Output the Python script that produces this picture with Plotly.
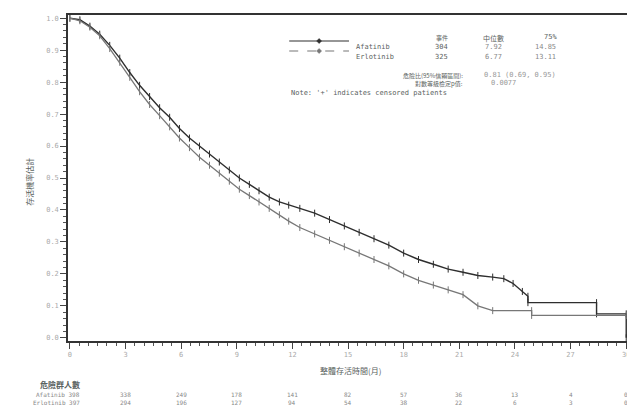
import plotly.graph_objects as go

# ---------------- data ----------------
times_afa = [0, 0.54, 1.08, 1.61, 2.15, 2.69, 3.23, 3.76, 4.30, 4.84, 5.38, 5.91, 6.45, 6.99,
             7.53, 8.06, 8.60, 9.14, 9.68, 10.2, 10.75, 11.3, 11.8, 12.4, 13.2, 14.0, 14.8,
             15.6, 16.4, 17.2, 18.0, 18.8, 19.6, 20.4, 21.2, 22.0, 22.8, 23.4, 23.9, 24.4,
             24.7, 24.7, 28.4, 28.4, 30.0, 30.0]
surv_afa = [1.0, 0.995, 0.975, 0.95, 0.915, 0.875, 0.83, 0.79, 0.755, 0.72, 0.69, 0.655, 0.625,
            0.60, 0.575, 0.55, 0.525, 0.50, 0.48, 0.46, 0.44, 0.425, 0.415, 0.405, 0.39, 0.37,
            0.35, 0.33, 0.31, 0.29, 0.265, 0.245, 0.23, 0.215, 0.205, 0.195, 0.19, 0.185, 0.17,
            0.145, 0.13, 0.11, 0.11, 0.075, 0.075, 0.0]

times_erl = [0, 0.54, 1.08, 1.61, 2.15, 2.69, 3.23, 3.76, 4.30, 4.84, 5.38, 5.91, 6.45, 6.99,
             7.53, 8.06, 8.60, 9.14, 9.68, 10.2, 10.75, 11.3, 11.8, 12.4, 13.2, 14.0, 14.8,
             15.6, 16.4, 17.2, 18.0, 18.8, 19.6, 20.4, 21.2, 22.0, 22.8, 24.9, 24.9, 30.0]
surv_erl = [1.0, 0.992, 0.972, 0.945, 0.905, 0.862, 0.815, 0.77, 0.73, 0.695, 0.66, 0.625, 0.595,
            0.565, 0.54, 0.515, 0.49, 0.465, 0.445, 0.425, 0.405, 0.385, 0.365, 0.345, 0.325,
            0.305, 0.285, 0.265, 0.245, 0.225, 0.20, 0.18, 0.165, 0.15, 0.135, 0.10, 0.085,
            0.085, 0.07, 0.07]

groups = ["Afatinib", "Erlotinib"]
events = ["304", "325"]
medians = ["7.92", "6.77"]
q75 = ["14.85", "13.11"]
hr_text = "0.81 (0.69, 0.95)"
p_text = "0.0077"

risk_times = [3, 6, 9, 12, 15, 18, 21, 24, 27, 30]
risk_n0 = ["398", "397"]
risk_afa = [338, 249, 178, 141, 82, 57, 36, 13, 4, 0]
risk_erl = [294, 196, 127, 94, 54, 38, 22, 6, 3, 0]

x_ticks = [0, 3, 6, 9, 12, 15, 18, 21, 24, 27, 30]
y_ticks = [0.0, 0.1, 0.2, 0.3, 0.4, 0.5, 0.6, 0.7, 0.8, 0.9, 1.0]

# ---------------- geometry (page offset of 8px compensated) ----------------
OFF = 8
W, H = 635 - OFF, 416 - OFF
L, R, T, B = 68 - OFF, 4, 15 - OFF, 75
PW, PH = W - L - R, H - T - B


def px(x):
    return (x - OFF - L) / PW


def py(y):
    return (H - B - (y - OFF)) / PH


MONO = "DejaVu Sans Mono"
CJK = "Noto Sans CJK TC"
DARK = "#2e2e2e"
GREY = "#777777"
TXT = "#5a6260"

fig = go.Figure()
fig.add_trace(go.Scatter(
    x=times_afa, y=surv_afa, mode="lines+markers", name=groups[0],
    line=dict(color=DARK, width=1.4),
    marker=dict(symbol="line-ns-open", size=5, line=dict(color=DARK, width=1)),
    showlegend=False))
fig.add_trace(go.Scatter(
    x=times_erl, y=surv_erl, mode="lines+markers", name=groups[1],
    line=dict(color=GREY, width=1.3),
    marker=dict(symbol="line-ns-open", size=5, line=dict(color=GREY, width=1)),
    showlegend=False))

ann = []
shapes = []

# legend lines
for i, (dash, col) in enumerate([("solid", DARK), ("dash", GREY)]):
    yy = 41 + 10 * i
    shapes.append(dict(type="line", xref="paper", yref="paper",
                       x0=px(290), x1=px(350), y0=py(yy), y1=py(yy),
                       line=dict(color=col, width=1.2, dash=dash)))
    d = 2.5
    path = (f"M {px(320 - d)},{py(yy)} L {px(320)},{py(yy - d)} "
            f"L {px(320 + d)},{py(yy)} L {px(320)},{py(yy + d)} Z")
    shapes.append(dict(type="path", xref="paper", yref="paper", path=path,
                       fillcolor=col, line=dict(color=col, width=0.5)))
    ann.append(dict(x=px(355), y=py(yy), xref="paper", yref="paper", text=groups[i],
                    xanchor="left", showarrow=False, font=dict(family=MONO, size=7, color=TXT)))
    ann.append(dict(x=px(451), y=py(yy), xref="paper", yref="paper", text=events[i],
                    showarrow=False, font=dict(family=MONO, size=7, color=TXT)))
    ann.append(dict(x=px(506), y=py(yy), xref="paper", yref="paper", text=medians[i],
                    showarrow=False, font=dict(family=MONO, size=7, color="#888")))
    ann.append(dict(x=px(560), y=py(yy), xref="paper", yref="paper", text=q75[i],
                    showarrow=False, font=dict(family=MONO, size=7, color="#888")))

ann.append(dict(x=px(451), y=py(31), xref="paper", yref="paper", text="事件",
                showarrow=False, font=dict(family=CJK, size=6, color=TXT)))
ann.append(dict(x=px(508), y=py(31), xref="paper", yref="paper", text="中位數",
                showarrow=False, font=dict(family=CJK, size=7, color=TXT)))
ann.append(dict(x=px(561), y=py(31), xref="paper", yref="paper", text="75%",
                showarrow=False, font=dict(family=MONO, size=7, color=TXT)))
ann.append(dict(x=px(466), y=py(69), xref="paper", yref="paper", text="危險比(95%信賴區間):",
                xanchor="right", showarrow=False, font=dict(family=CJK, size=6, color=TXT)))
ann.append(dict(x=px(483), y=py(69), xref="paper", yref="paper", text=hr_text,
                xanchor="left", showarrow=False, font=dict(family=MONO, size=7, color="#999")))
ann.append(dict(x=px(466), y=py(77), xref="paper", yref="paper", text="對數等級檢定p值:",
                xanchor="right", showarrow=False, font=dict(family=CJK, size=6, color=TXT)))
ann.append(dict(x=px(490), y=py(77), xref="paper", yref="paper", text=p_text,
                xanchor="left", showarrow=False, font=dict(family=MONO, size=7, color="#999")))
ann.append(dict(x=px(290), y=py(87), xref="paper", yref="paper",
                text="Note: '+' indicates censored patients",
                xanchor="left", showarrow=False, font=dict(family=MONO, size=7, color=TXT)))

# axis titles
ann.append(dict(x=px(352), y=py(378), xref="paper", yref="paper", text="整體存活時間(月)",
                showarrow=False, font=dict(family=CJK, size=8, color=TXT)))
ann.append(dict(x=px(22), y=py(182), xref="paper", yref="paper", text="存活機率估計",
                textangle=-90, showarrow=False, font=dict(family=CJK, size=8, color=TXT)))

# at-risk table
ann.append(dict(x=px(38), y=py(392), xref="paper", yref="paper", text="<b>危險群人數</b>",
                xanchor="left", showarrow=False, font=dict(family=CJK, size=8, color=TXT)))
for i, row in enumerate([risk_afa, risk_erl]):
    yy = 400 + 8 * i
    ann.append(dict(x=px(82), y=py(yy), xref="paper", yref="paper",
                    text=f"{groups[i]} {risk_n0[i]}", xanchor="right", showarrow=False,
                    font=dict(family=MONO, size=6, color="#888")))
    for t, n in zip(risk_times, row):
        ann.append(dict(x=t, y=py(yy), xref="x", yref="paper", text=str(n),
                        showarrow=False, font=dict(family=MONO, size=6, color="#888")))

fig.update_layout(
    width=W, height=H, margin=dict(l=L, r=R, t=T, b=B),
    paper_bgcolor="white", plot_bgcolor="white",
    annotations=ann, shapes=shapes,
    xaxis=dict(range=[-0.1, 30.15], tickvals=x_ticks, ticktext=[str(v) for v in x_ticks],
               showgrid=False, zeroline=False, showline=True, linecolor="#333", linewidth=1.5,
               mirror=True, ticks="outside", ticklen=6, tickcolor="#444",
               minor=dict(dtick=0.5, ticks="outside", ticklen=3, tickcolor="#555"),
               tickfont=dict(family=MONO, size=7, color="#aaa")),
    yaxis=dict(range=[-0.01, 1.01], tickvals=y_ticks, ticktext=[f"{v:.1f}" for v in y_ticks],
               showgrid=False, zeroline=False, showline=True, linecolor="#333", linewidth=1.5,
               mirror=True, ticks="outside", ticklen=6, tickcolor="#444",
               minor=dict(dtick=0.02, ticks="outside", ticklen=3, tickcolor="#555"),
               tickfont=dict(family=MONO, size=7, color="#aaa")),
)

fig.write_html("out.html")
